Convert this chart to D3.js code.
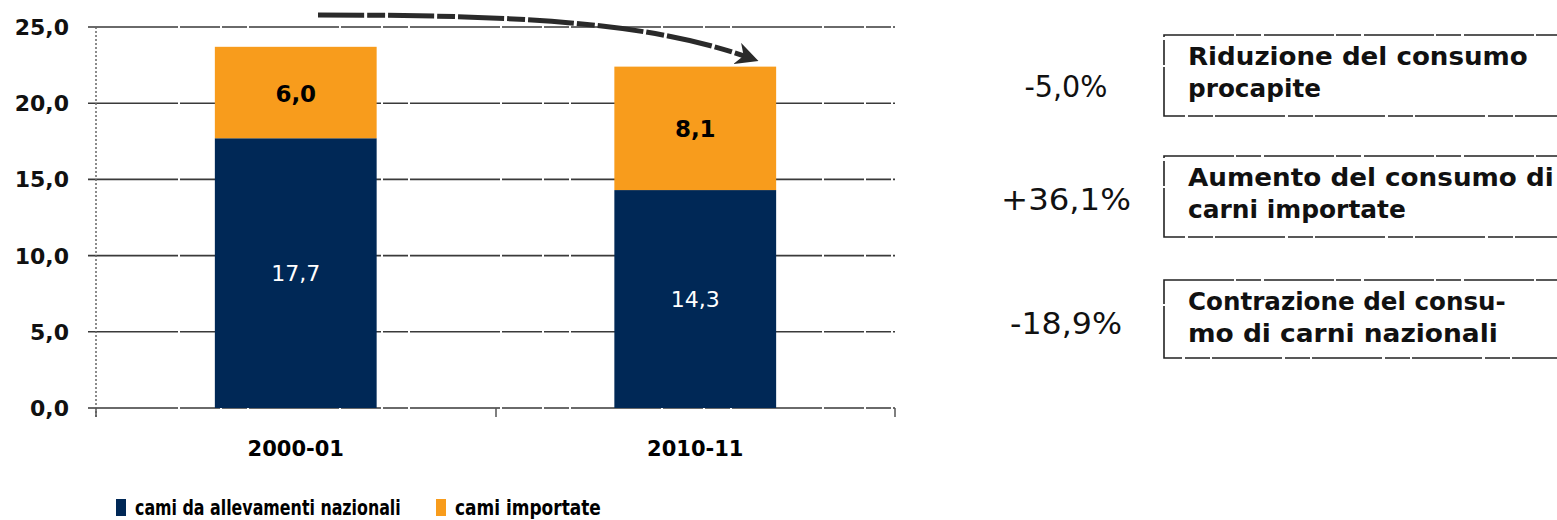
<!DOCTYPE html>
<html>
<head>
<meta charset="utf-8">
<script src="https://cdn.jsdelivr.net/npm/d3@7"></script>
<style>
  body { margin: 0; background: #fff; }
  svg { display: block; }
</style>
</head>
<body>
<svg id="chart" width="1557" height="520"></svg>
<script>
// DATA
// --------------------------------------
var periods = ['2000-01', '2010-11'];
var nazionali = [17.7, 14.3];
var importate = [6.0, 8.1];
var yTicks = [0, 5, 10, 15, 20, 25];
var seriesNames = ['cami da allevamenti nazionali', 'cami importate'];
var changes = ['-5,0%', '+36,1%', '-18,9%'];
var notes = [
    ['Riduzione del consumo', 'procapite'],
    ['Aumento del consumo di', 'carni importate'],
    ['Contrazione del consu-', 'mo di carni nazionali']
];

// CONFIG
// --------------------------------------
var COLORS = { naz: '#002856', imp: '#f89c1c', grid: '#3a3a3a' };
var FONT = '"DejaVu Sans", Verdana, sans-serif';

var svg = d3.select('#chart');

var x = d3.scaleBand().domain(periods).range([96, 895]);
var y = d3.scaleLinear().domain([0, 25]).range([408, 27]);
var barW = x.bandwidth() * 0.405;

var fmt = function(v){ return d3.format('.1f')(v).replace('.', ','); };

// squeeze a text horizontally to a given width (the scans use a narrow font)
function squeeze(sel, w, tx, ty) {
    sel.attr('x', 0).attr('y', 0);
    var natural = sel.node().getComputedTextLength();
    sel.attr('transform', 'translate(' + tx + ',' + ty + ') scale(' + (w / natural) + ',1)');
    return sel;
}

// gridlines + y labels
svg.append('g').selectAll('line').data(yTicks).enter().append('line')
    .attr('x1', 88).attr('x2', 895)
    .attr('y1', function(d){ return y(d); })
    .attr('y2', function(d){ return y(d); })
    .attr('stroke', COLORS.grid).attr('stroke-width', 1.6)
    .attr('stroke-dasharray', '90,2,40,2,25,2');

svg.append('g').selectAll('text').data(yTicks).enter().append('text')
    .attr('x', 69).attr('y', function(d){ return y(d) + 8; })
    .attr('text-anchor', 'end')
    .style('font', 'bold 22px ' + FONT).attr('fill', '#111')
    .text(fmt);

// y axis line (dotted)
svg.append('line')
    .attr('x1', 96).attr('x2', 96).attr('y1', y(25)).attr('y2', 418)
    .attr('stroke', '#666').attr('stroke-width', 1.5).attr('stroke-dasharray', '2,2');

// bottom ticks
svg.append('g').selectAll('line').data([96, 496, 895]).enter().append('line')
    .attr('x1', function(d){ return d; }).attr('x2', function(d){ return d; })
    .attr('y1', 408).attr('y2', 417)
    .attr('stroke', '#555').attr('stroke-width', 1.5);

// stacked bars
var bars = svg.append('g');
periods.forEach(function(p, i){
    var bx = x(p) + (x.bandwidth() - barW) / 2;
    var top = nazionali[i] + importate[i];

    bars.append('rect')
        .attr('x', bx).attr('width', barW)
        .attr('y', y(nazionali[i])).attr('height', y(0) - y(nazionali[i]))
        .attr('fill', COLORS.naz);

    bars.append('rect')
        .attr('x', bx).attr('width', barW)
        .attr('y', y(top)).attr('height', y(nazionali[i]) - y(top))
        .attr('fill', COLORS.imp);

    bars.append('text')
        .attr('x', bx + barW / 2).attr('y', y(nazionali[i] / 2) + 8)
        .attr('text-anchor', 'middle')
        .style('font', '22px ' + FONT).attr('fill', '#fff')
        .text(fmt(nazionali[i]));

    bars.append('text')
        .attr('x', bx + barW / 2).attr('y', y(nazionali[i] + importate[i] / 2) + 9)
        .attr('text-anchor', 'middle')
        .style('font', 'bold 23px ' + FONT).attr('fill', '#000')
        .text(fmt(importate[i]));

    // category label
    svg.append('text')
        .attr('x', x(p) + x.bandwidth() / 2).attr('y', 456)
        .attr('text-anchor', 'middle')
        .style('font', 'bold 21px ' + FONT).attr('fill', '#000')
        .text(p);
});

// curved arrow over the bars
var defs = svg.append('defs');
defs.append('marker')
    .attr('id', 'arrowhead')
    .attr('viewBox', '0 0 10 10')
    .attr('refX', 6).attr('refY', 5)
    .attr('markerWidth', 4.5).attr('markerHeight', 4.5)
    .attr('orient', 'auto')
    .append('path')
    .attr('d', 'M0,0 L10,5 L0,10 L3,5 Z')
    .attr('fill', '#2a2a2a');

svg.append('path')
    .attr('d', 'M318,15 C520,15 650,22 750,58')
    .attr('fill', 'none')
    .attr('stroke', '#2a2a2a').attr('stroke-width', 5)
    .attr('stroke-dasharray', '46,3,18,3')
    .attr('marker-end', 'url(#arrowhead)');

// legend
var legend = svg.append('g');
var legendX = [116, 436];
var legendW = [266, 146];
seriesNames.forEach(function(name, i){
    legend.append('rect')
        .attr('x', legendX[i]).attr('y', 499)
        .attr('width', 10).attr('height', 17)
        .attr('fill', i === 0 ? COLORS.naz : COLORS.imp);
    var t = legend.append('text')
        .style('font', 'bold 22px ' + FONT).attr('fill', '#000')
        .text(name);
    squeeze(t, legendW[i], legendX[i] + 19, 515);
});

// right-hand notes
var boxY = [35, 156, 280];
var boxH = [81, 81, 78];
var changeY = [97, 210, 334];
var changeW = [83, 130, 112];
var noteW = [[340, 366, 318], [133, 218, 310]];
var notesG = svg.append('g');
changes.forEach(function(c, i){
    var pc = notesG.append('text')
        .attr('text-anchor', 'middle')
        .style('font', '31px ' + FONT).attr('fill', '#111')
        .text(c);
    squeeze(pc, changeW[i], 1066, changeY[i]);

    notesG.append('rect')
        .attr('x', 1164).attr('y', boxY[i])
        .attr('width', 420).attr('height', boxH[i])
        .attr('fill', 'none')
        .attr('stroke', '#222').attr('stroke-width', 1.6)
        .attr('stroke-dasharray', '70,2,25,3');

    notes[i].forEach(function(line, j){
        var t = notesG.append('text')
            .style('font', 'bold 25px ' + FONT).attr('fill', '#111')
            .text(line);
        squeeze(t, noteW[j][i], 1188, boxY[i] + 30 + j * 32);
    });
});
</script>
</body>
</html>
